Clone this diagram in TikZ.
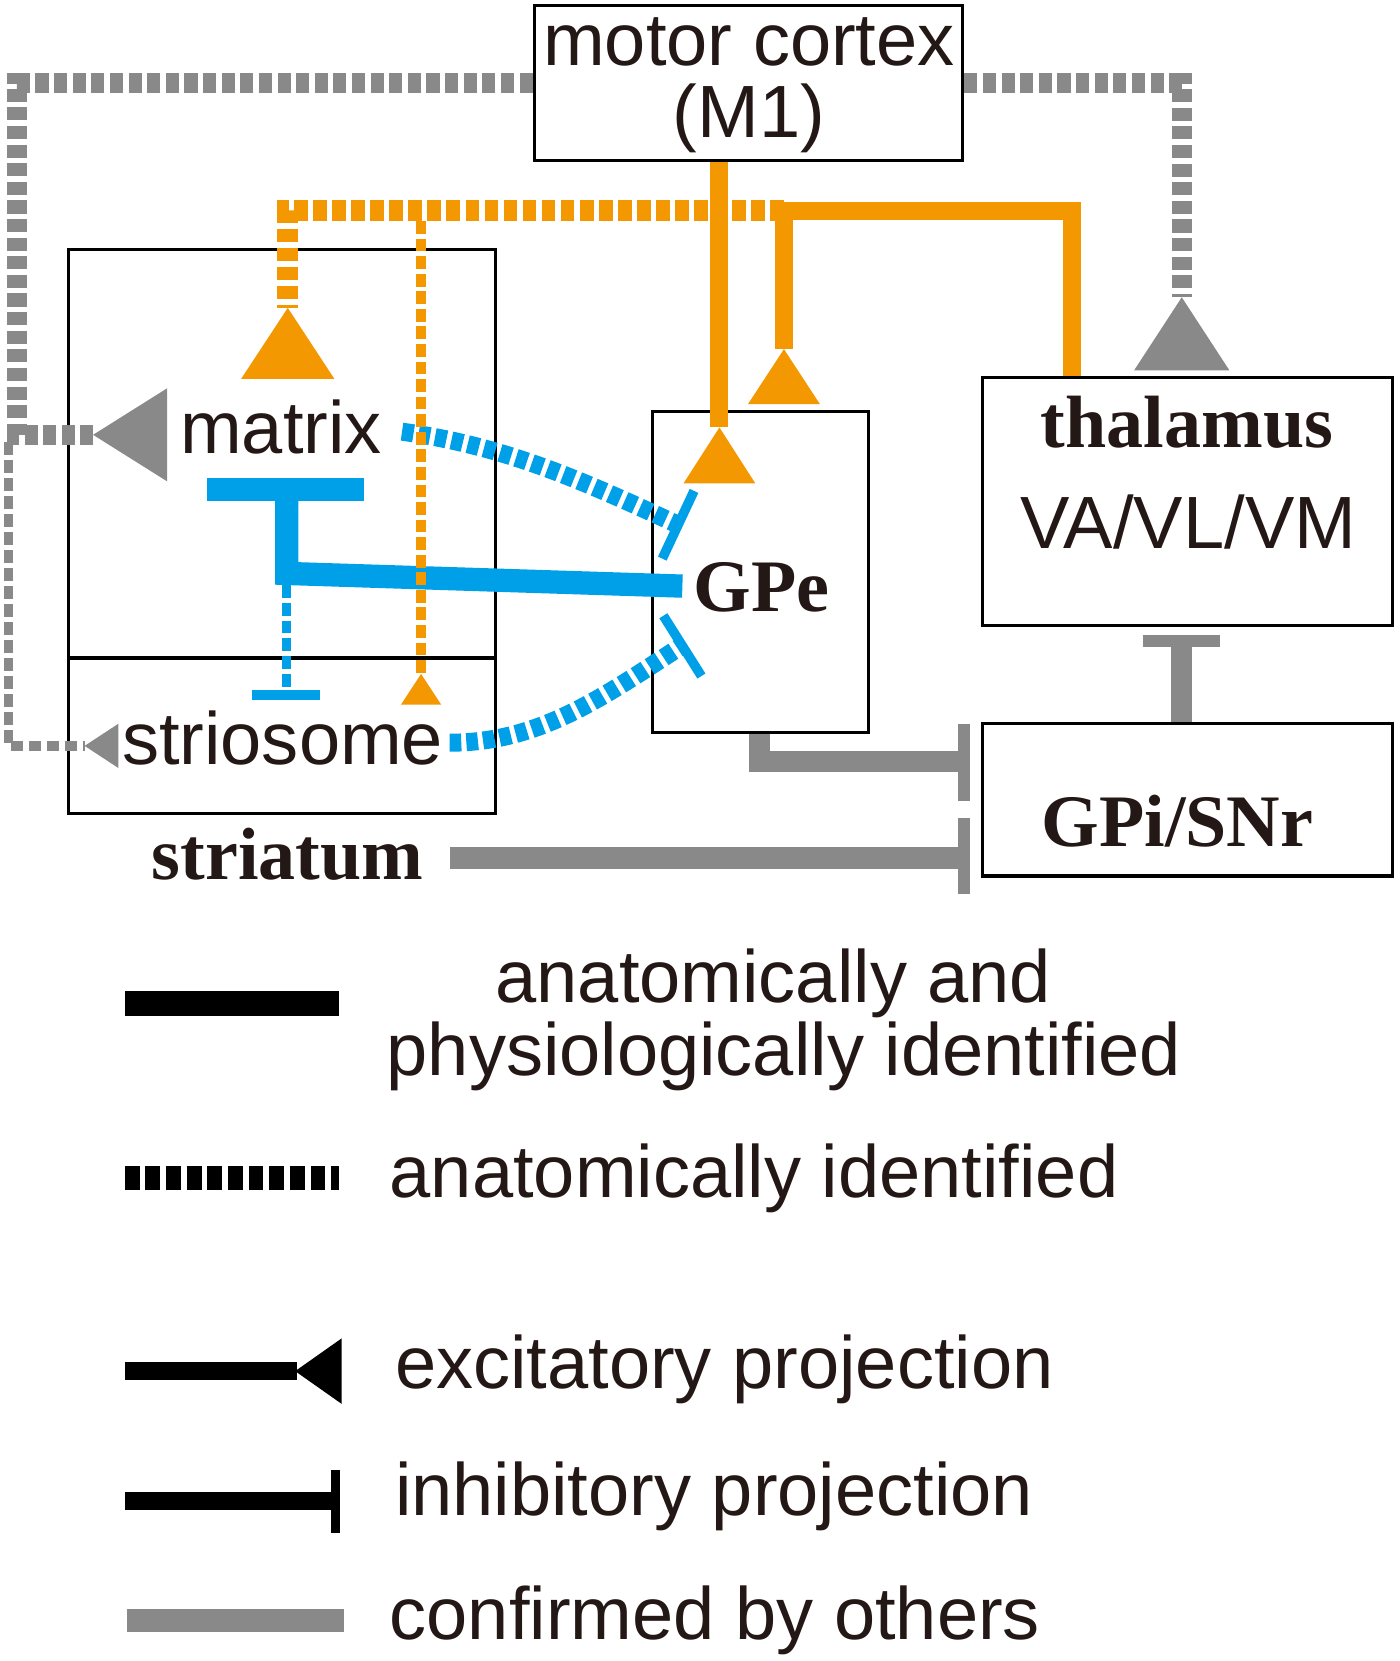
\documentclass[tikz,border=0pt]{standalone}
\usepackage{fontspec}
\setmainfont{Liberation Sans}
\newfontfamily\serifbf{Liberation Serif}
\definecolor{org}{HTML}{F39800}
\definecolor{blu}{HTML}{00A0E9}
\definecolor{gry}{HTML}{898989}
\definecolor{ink}{HTML}{231815}
\begin{document}
\begin{tikzpicture}[x=0.5pt,y=-0.5pt, line join=miter,
  box/.style={draw=black, line width=1.5pt, inner sep=0pt},
  lbl/.style={inner sep=0pt, font=\fontsize{35}{34}\selectfont, text=ink},
  blbl/.style={inner sep=0pt, font=\fontsize{35}{34}\selectfont\serifbf\bfseries, text=ink},
  gthick/.style={draw=gry, line width=9.5pt, dash pattern=on 6.2pt off 2.6pt},
  gthin/.style={draw=gry, line width=4.5pt, dash pattern=on 6pt off 2.5pt},
  gsolid/.style={draw=gry, line width=10pt},
  gbar/.style={draw=gry, line width=5.5pt},
  osolid/.style={draw=org, line width=8.5pt},
  odthick/.style={draw=org, line width=10pt, dash pattern=on 6.5pt off 2.5pt},
  odthin/.style={draw=org, line width=4.5pt, dash pattern=on 6pt off 2.3pt},
  bsolid/.style={draw=blu, line width=11pt},
  bdthick/.style={draw=blu, line width=8.5pt, dash pattern=on 5.5pt off 2.4pt},
  bdthin/.style={draw=blu, line width=4.5pt, dash pattern=on 6pt off 2.4pt},
  bbar/.style={draw=blu, line width=4.5pt}]
\useasboundingbox (0,0) rectangle (1323,1570);

% ---------- boxes ----------
\node[box, minimum width=202.5pt, minimum height=73.5pt] (m1) at (707.5,78.5) {};
\node[box, minimum width=201.5pt, minimum height=193pt] (mat) at (266.5,429) {};
\node[box, minimum width=201.5pt, minimum height=73.5pt] (sio) at (266.5,695.5) {};
\node[box, minimum width=102pt, minimum height=151.5pt] (gpe) at (719,540.5) {};
\node[box, minimum width=193.5pt, minimum height=117pt] (thal) at (1122.5,474) {};
\node[box, minimum width=193.5pt, minimum height=72pt] (gpi) at (1122.5,756) {};

% ---------- texts ----------
\node[lbl, anchor=base] (m1a) at (708,62) {motor cortex};
\node[lbl, anchor=base] (m1b) at (708,130) {(M1)};
\node[blbl, anchor=base] (thala) at (1122,423) {thalamus};
\node[lbl, anchor=base] (thalb) at (1123,518) {VA/VL/VM};
\node[blbl, anchor=base west] (gpet) at (655,578) {GPe};
\node[blbl, anchor=base] (gpit) at (1113,800) {GPi/SNr};
\node[blbl, anchor=base west] (strt) at (143,831) {striatum};
\node[lbl, anchor=base west] (matt) at (170,429) {matrix};
\node[lbl, anchor=base west] (siot) at (115,723) {striosome};

% ---------- gray dashed (M1 -> striatum, M1 -> thalamus) ----------
\coordinate (gA1) at (16,77);
\coordinate (gA2) at (16,411);
\coordinate (tGM) at (88,411);
\draw[gthick] (m1.west) -- (gA1 |- m1.west) -- (gA2) -- (tGM);
\fill[gry] (tGM) -- (158,367) -- (158,455) -- cycle;

\coordinate (gB1) at (8,418);
\coordinate (gB2) at (8,705);
\coordinate (tGS) at (80,705);
\draw[gthin] (gB1) -- (gB2) -- (tGS);
\fill[gry] (tGS) -- (112,684) -- (112,726) -- cycle;

\coordinate (gC1) at (1117,77);
\coordinate (tGT) at (1117,281);
\draw[gthick] (m1.east) -- (gC1 |- m1.east) -- (tGT);
\fill[gry] (tGT) -- (1072,350) -- (1162,350) -- cycle;

% ---------- gray solid ----------
\coordinate (gP1) at (718,720);
\coordinate (gP2) at (911,720);
\draw[gsolid] (gP1 |- gpe.south) -- (gP1) -- (gP2);
\draw[gbar] (911,684) -- (911,757);

\coordinate (gQ1) at (425,811);
\coordinate (gQ2) at (911,811);
\draw[gsolid] (gQ1) -- (gQ2);
\draw[gbar] (911,773) -- (911,845);

\coordinate (gR) at (1117,606);
\draw[gsolid] (gR |- gpi.north) -- (gR);
\draw[draw=gry, line width=6pt] (1080,606) -- (1153,606);

% ---------- blue ----------
\coordinate (bS1) at (645,554);
\coordinate (bS2) at (271,542);
\coordinate (bS3) at (271,463);
\draw[bsolid] (bS1) -- (bS2) -- (bS3);
\draw[draw=blu, line width=11pt] (196,463) -- (344,463);

\coordinate (bT1) at (271,553);
\coordinate (bT2) at (271,657);
\draw[bdthin] (bT1) -- (bT2);
\draw[draw=blu, line width=5pt] (238,657) -- (302,657);

\coordinate (bU1) at (380,408);
\coordinate (bU2) at (641,496);
\draw[bdthick] (bU1) .. controls (479,422) and (550,454) .. (bU2);
\draw[bbar] (656,464) -- (626,528);

\coordinate (bL1) at (425,702);
\coordinate (bL2) at (645,610);
\draw[bdthick] (bL1) .. controls (510,702) and (569.5,659) .. (bL2);
\draw[bbar] (663,639) -- (627,582);

% ---------- orange ----------
\coordinate (oT1) at (1013,199);
\coordinate (oT2) at (741,199);
\coordinate (tOG2) at (741,330);
\coordinate (oM1) at (272,199);
\coordinate (tOM) at (272,291);
\draw[odthick] (oT2) -- (oM1) -- (tOM);
\fill[org] (tOM) -- (228,358) -- (316,358) -- cycle;

\draw[osolid] (oT1 |- thal.north) -- (oT1) -- (oT2) -- (tOG2);
\fill[org] (tOG2) -- (707,382) -- (775,382) -- cycle;

\coordinate (tOG1) at (680,404);
\draw[osolid] (tOG1 |- m1.south) -- (tOG1);
\fill[org] (tOG1) -- (646,457) -- (714,457) -- cycle;

\coordinate (oS1) at (398,209);
\coordinate (tOS) at (398,637);
\draw[odthin] (oS1) -- (tOS);
\fill[org] (tOS) -- (379,666) -- (417,666) -- cycle;

% ---------- legend ----------
\fill[black] (118,937) rectangle (320,960);
\node[lbl, anchor=base] (l1a) at (731,948) {anatomically and};
\node[lbl, anchor=base] (l1b) at (741,1017) {physiologically identified};

\draw[black, line width=11.5pt, dash pattern=on 7pt off 2.75pt] (118,1113.5) -- (320,1113.5);
\node[lbl, anchor=base west] (l2) at (368,1132) {anatomically identified};

\draw[black, line width=8.5pt] (118,1296) -- (281,1296);
\fill[black] (279,1296) -- (323,1265) -- (323,1327) -- cycle;
\node[lbl, anchor=base west] (l3) at (373,1312) {excitatory projection};

\draw[black, line width=8.5pt] (118,1419) -- (317,1419);
\draw[black, line width=4.5pt] (317,1389) -- (317,1449);
\node[lbl, anchor=base west] (l4) at (373,1432) {inhibitory projection};

\fill[gry] (120,1521) rectangle (325,1543);
\node[lbl, anchor=base west] (l5) at (368,1550) {confirmed by others};
\end{tikzpicture}
\end{document}
